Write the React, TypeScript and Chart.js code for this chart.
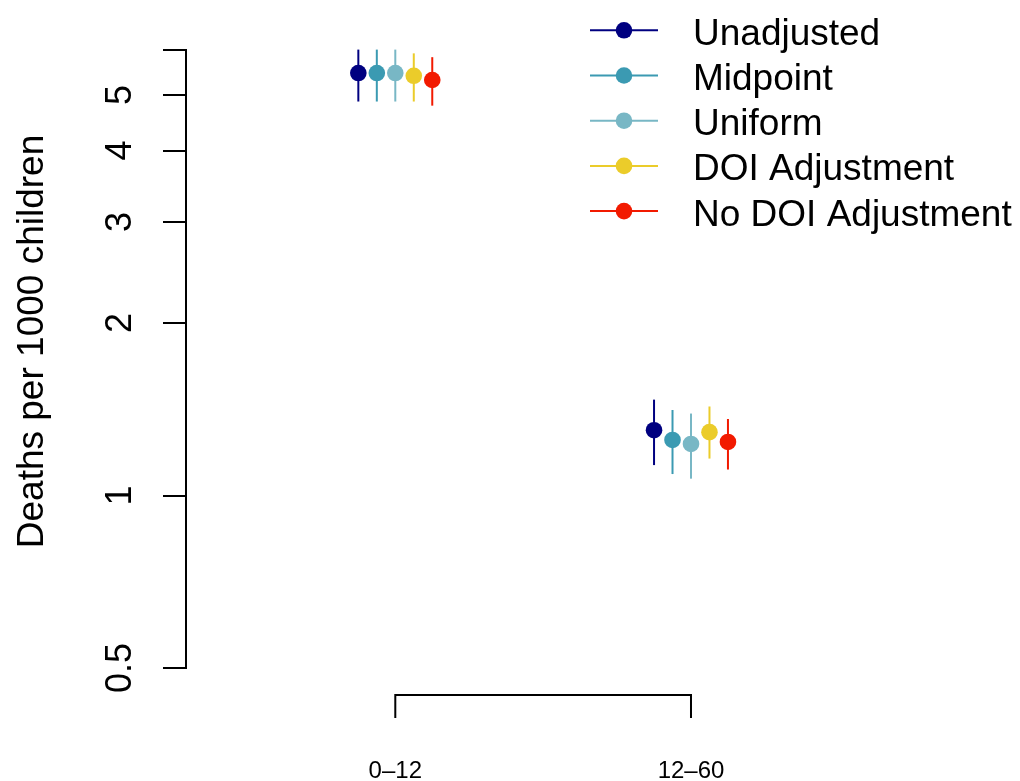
import React, { useEffect, useRef } from "react";
import { Chart, registerables } from "chart.js";

Chart.register(...registerables);

// Age groups (months) shown along the x axis
const ageGroups = ["0–12", "12–60"];

// Estimation methods and their colours
const methods = ["Unadjusted", "Midpoint", "Uniform", "DOI Adjustment", "No DOI Adjustment"];
const methodColors = ["#000080", "#3B9AB2", "#78B7C5", "#EBCC2A", "#F21A00"];

// Deaths per 1000 children: point estimate, lower and upper interval, per age group
const unadjustedRate = [5.46, 1.3];
const unadjustedLow = [4.87, 1.13];
const unadjustedHigh = [6.0, 1.47];

const midpointRate = [5.46, 1.25];
const midpointLow = [4.87, 1.09];
const midpointHigh = [6.0, 1.41];

const uniformRate = [5.46, 1.23];
const uniformLow = [4.87, 1.07];
const uniformHigh = [6.0, 1.39];

const doiRate = [5.4, 1.29];
const doiLow = [4.87, 1.16];
const doiHigh = [5.91, 1.43];

const noDoiRate = [5.31, 1.24];
const noDoiLow = [4.79, 1.11];
const noDoiHigh = [5.82, 1.36];

// Log-scale y axis ticks
const yTickValues = [0.5, 1, 2, 3, 4, 5, 6];
const yTickLabels = ["0.5", "1", "2", "3", "4", "5", ""];

const yTitle = "Deaths per 1000 children";

const rates = [unadjustedRate, midpointRate, uniformRate, doiRate, noDoiRate];
const lows = [unadjustedLow, midpointLow, uniformLow, doiLow, noDoiLow];
const highs = [unadjustedHigh, midpointHigh, uniformHigh, doiHigh, noDoiHigh];

const FONT = "'Liberation Sans', Arial, Helvetica, sans-serif";
const DODGE = 0.0625;

// Vertical interval lines, drawn beneath the points
const errorBarsPlugin = {
  id: "errorBars",
  beforeDatasetsDraw(chart: any) {
    const { ctx, scales } = chart;
    const x = scales.x;
    const y = scales.y;
    chart.data.datasets.forEach((ds: any) => {
      ctx.save();
      ctx.strokeStyle = ds.backgroundColor;
      ctx.lineWidth = 2;
      ds.data.forEach((p: any) => {
        const px = x.getPixelForValue(p.x);
        ctx.beginPath();
        ctx.moveTo(px, y.getPixelForValue(p.lo));
        ctx.lineTo(px, y.getPixelForValue(p.hi));
        ctx.stroke();
      });
      ctx.restore();
    });
  },
};

// Bracket-style x axis spanning the age groups, plus y title and legend
const decorationsPlugin = {
  id: "decorations",
  afterDraw(chart: any) {
    const { ctx, scales } = chart;
    const x = scales.x;
    const first = x.getPixelForValue(1);
    const last = x.getPixelForValue(ageGroups.length);
    const axisY = 695;
    const tickEnd = 718;

    ctx.save();
    ctx.strokeStyle = "#000";
    ctx.lineWidth = 2;
    ctx.beginPath();
    ctx.moveTo(first, tickEnd);
    ctx.lineTo(first, axisY);
    ctx.lineTo(last, axisY);
    ctx.lineTo(last, tickEnd);
    ctx.stroke();

    ctx.fillStyle = "#000";
    ctx.font = `24px ${FONT}`;
    ctx.textAlign = "center";
    ctx.textBaseline = "alphabetic";
    ageGroups.forEach((g, i) => {
      ctx.fillText(g, x.getPixelForValue(i + 1), 778);
    });

    // y axis title
    ctx.save();
    ctx.translate(43, 341.5);
    ctx.rotate(-Math.PI / 2);
    ctx.font = `37px ${FONT}`;
    ctx.textAlign = "center";
    ctx.textBaseline = "alphabetic";
    ctx.fillText(yTitle, 0, 0);
    ctx.restore();

    // legend
    const rowTop = 30.3;
    const rowGap = 45.2;
    ctx.font = `37px ${FONT}`;
    ctx.textAlign = "left";
    chart.data.datasets.forEach((ds: any, i: number) => {
      const ry = rowTop + rowGap * i;
      ctx.strokeStyle = ds.backgroundColor;
      ctx.lineWidth = 2;
      ctx.beginPath();
      ctx.moveTo(590, ry);
      ctx.lineTo(658, ry);
      ctx.stroke();
      ctx.fillStyle = ds.backgroundColor;
      ctx.beginPath();
      ctx.arc(624, ry, 8.3, 0, Math.PI * 2);
      ctx.fill();
      ctx.fillStyle = "#000";
      ctx.fillText(ds.label, 693, ry + 14.5);
    });
    ctx.restore();
  },
};

export default function App() {
  const canvasRef = useRef<HTMLCanvasElement | null>(null);

  useEffect(() => {
    if (!canvasRef.current) return;
    const datasets = methods.map((m, i) => ({
      label: m,
      backgroundColor: methodColors[i],
      borderColor: methodColors[i],
      pointRadius: 8.3,
      pointHoverRadius: 8.3,
      pointBorderWidth: 0,
      showLine: false,
      data: ageGroups.map((_, g) => ({
        x: g + 1 + (i - (methods.length - 1) / 2) * DODGE,
        y: rates[i][g],
        lo: lows[i][g],
        hi: highs[i][g],
      })),
    }));

    const chart = new Chart(canvasRef.current, {
      type: "scatter",
      data: { datasets } as any,
      options: {
        animation: false,
        responsive: false,
        devicePixelRatio: 1,
        events: [],
        layout: { padding: { left: 0, top: 49.6, right: 20, bottom: 113 } },
        plugins: {
          legend: { display: false },
          tooltip: { enabled: false },
        },
        scales: {
          x: {
            type: "linear",
            min: 0.2922,
            max: 3.045,
            display: false,
          },
          y: {
            type: "logarithmic",
            position: "left",
            min: 0.5,
            max: 6,
            afterFit: (s: any) => {
              s.width = 186;
            },
            afterBuildTicks: (s: any) => {
              s.ticks = yTickValues.map((v) => ({ value: v }));
            },
            ticks: {
              autoSkip: false,
              minRotation: 90,
              maxRotation: 90,
              crossAlign: "center",
              padding: 16.5,
              color: "#000",
              font: { family: FONT, size: 36 },
              callback: (_v: any, index: number) => yTickLabels[index],
            },
            grid: {
              display: true,
              drawOnChartArea: false,
              drawTicks: true,
              tickLength: 23,
              color: "#000",
              lineWidth: 2,
            },
            border: { display: true, color: "#000", width: 2 },
          },
        },
      } as any,
      plugins: [errorBarsPlugin, decorationsPlugin],
    });
    return () => chart.destroy();
  }, []);

  return (
    <div style={{ position: "absolute", left: 0, top: 0, width: 1020, height: 781, background: "#fff" }}>
      <canvas ref={canvasRef} width={1020} height={781} style={{ display: "block" }} />
    </div>
  );
}
